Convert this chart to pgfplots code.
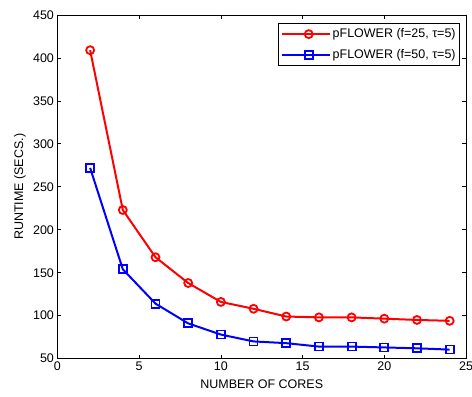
\documentclass[border=0pt]{standalone}
\usepackage{fontspec}
\setmainfont{Liberation Sans}
\usepackage{pgfplots}
\pgfplotsset{compat=1.18}
\begin{document}
\begin{tikzpicture}
\begin{axis}[
  name=ax,
  scale only axis,
  width=409pt, height=344pt,
  xmin=0, xmax=25, ymin=50, ymax=450,
  xtick={0,5,...,25}, ytick={50,100,...,450},
  tick align=inside,
  major tick length=4pt,
  axis line style={line width=0.9pt},
  tick style={line width=0.7pt, black},
  /pgf/number format/assume math mode=true,
  tick label style={font=\fontsize{12.5}{15}\selectfont},
  xlabel={NUMBER OF CORES},
  ylabel={RUNTIME (SECS.)},
  every axis x label/.style={at={(axis description cs:0.5,0)}, anchor=center, yshift=-26pt, font=\fontsize{12.5}{15}\selectfont},
  every axis y label/.style={at={(axis description cs:0,0.5)}, anchor=center, xshift=-37.5pt, rotate=90, font=\fontsize{12.5}{15}\selectfont},
  legend style={font=\fontsize{12.5}{15}\selectfont, at={(1,1)}, xshift=-6pt, yshift=-8pt, anchor=north east, draw=black, line width=0.8pt, inner xsep=2pt, inner ysep=3.5pt, row sep=6pt},
  legend cell align=left,
  legend image code/.code={
    \path (-6pt,0pt) -- (0pt,0pt);
    \draw[#1] (0pt,0pt) -- (42pt,0pt);
    \draw[#1,mark repeat=2,mark phase=2] plot coordinates {(0pt,0pt) (21pt,0pt) (42pt,0pt)};
  },
]
\addplot[red, line width=2pt, mark=o, mark size=4pt, mark options={solid, line width=1.8pt}] coordinates {
(2,409) (4,223) (6,168) (8,138) (10,116) (12,108) (14,99) (16,98) (18,98) (20,96.5) (22,95) (24,94)
};
\addlegendentry{pFLOWER (f=25, τ=5)}
\addplot[blue, line width=2pt, mark=square, mark size=4pt, mark options={solid, line width=1.8pt}] coordinates {
(2,272) (4,154) (6,114) (8,91) (10,78) (12,70) (14,68) (16,64) (18,64) (20,63) (22,62) (24,60.5)
};
\addlegendentry{pFLOWER (f=50, τ=5)}
\end{axis}
\pgfresetboundingbox
\path ([xshift=-57.5pt,yshift=15pt]ax.north west) rectangle ([xshift=6pt,yshift=-38pt]ax.south east);
\end{tikzpicture}
\end{document}
